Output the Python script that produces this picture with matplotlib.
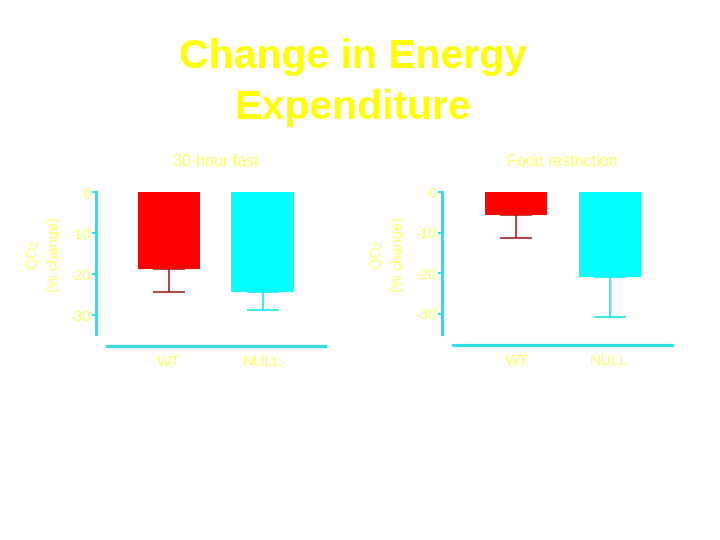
import matplotlib
matplotlib.use("Agg")
import matplotlib.pyplot as plt

plt.rcParams['font.family'] = ['Liberation Sans', 'DejaVu Sans']
plt.rcParams['mathtext.default'] = 'regular'

# Data
groups = ["WT", "NULL"]
fast_means = [-18.8, -24.3]
fast_err = [5.6, 4.5]
restr_means = [-5.7, -20.8]
restr_err = [5.7, 9.9]
yticks = [0, -10, -20, -30]
panel_titles = ["30-hour fast", "Food restriction"]
title_lines = ["Change in Energy", "Expenditure"]

TXT = '#ffff60'
AX = '#30e0e6'
bar_colors = ['#ff0000', '#00ffff']
err_colors = ['#a01010', '#00e8f0']

W, H = 720, 540
fig = plt.figure(figsize=(7.2, 5.4), dpi=100)
fig.patch.set_facecolor('white')

def px_axes(l, r, t, b):
    return fig.add_axes([l / W, 1 - b / H, (r - l) / W, (b - t) / H])

def draw_panel(ax, means, errs, xlim, ylim, loff, boff, title, tx, ylab_x):
    x = list(range(len(groups)))
    for i in x:
        ax.bar(i, means[i], width=0.665, color=bar_colors[i], zorder=2)
        ax.errorbar(i, means[i], yerr=[[errs[i]], [0]], fmt='none',
                    ecolor=err_colors[i], elinewidth=1.1, capsize=11.2,
                    capthick=1.1, zorder=1)
    ax.set_xlim(*xlim)
    ax.set_ylim(*ylim)
    ax.set_facecolor('none')
    for s in ['top', 'right']:
        ax.spines[s].set_visible(False)
    ax.spines['left'].set_position(('outward', loff * 0.72))
    ax.spines['bottom'].set_position(('outward', boff * 0.72))
    for s in ['left', 'bottom']:
        ax.spines[s].set_color(AX)
        ax.spines[s].set_linewidth(2.3)
    ax.set_yticks(yticks)
    ax.set_yticklabels([str(v) if v == 0 else "-%d" % abs(v) for v in yticks])
    ax.set_xticks(x)
    ax.set_xticklabels(groups)
    ax.tick_params(axis='y', colors=AX, labelcolor=TXT, length=3, width=1.5,
                   labelsize=10.5, pad=1)
    ax.tick_params(axis='x', length=0, labelcolor=TXT, labelsize=11, pad=7)
    fig.text(tx / W, 1 - 162 / H, title, color=TXT, fontsize=11.5,
             ha='center', va='center')
    fig.text(ylab_x / W, 1 - 255 / H, "QO$_2$\n(% change)", color=TXT,
             fontsize=10.5, rotation=90, ha='center', va='center',
             multialignment='center', linespacing=1.45)

ax1 = px_axes(107, 325, 192.3, 334)
draw_panel(ax1, fast_means, fast_err, (-0.663, 1.668),
           (-(334 - 192.3) / 4.1, 0), 11, 11.7, panel_titles[0], 216, 43)

ax2 = px_axes(453.3, 671.7, 192.3, 334)
draw_panel(ax2, restr_means, restr_err, (-0.676, 1.667),
           (-(334 - 192.3) / 4.05, 0), 11.6, 10.7, panel_titles[1], 562, 387)

fig.text(352.5 / W, 1 - 68 / H, title_lines[0], color='#ffff00', fontsize=29.5,
         fontweight='bold', ha='center', va='baseline')
fig.text(352.5 / W, 1 - 119 / H, title_lines[1], color='#ffff00', fontsize=29.5,
         fontweight='bold', ha='center', va='baseline')

fig.savefig('out.png', dpi=100, facecolor='white')
